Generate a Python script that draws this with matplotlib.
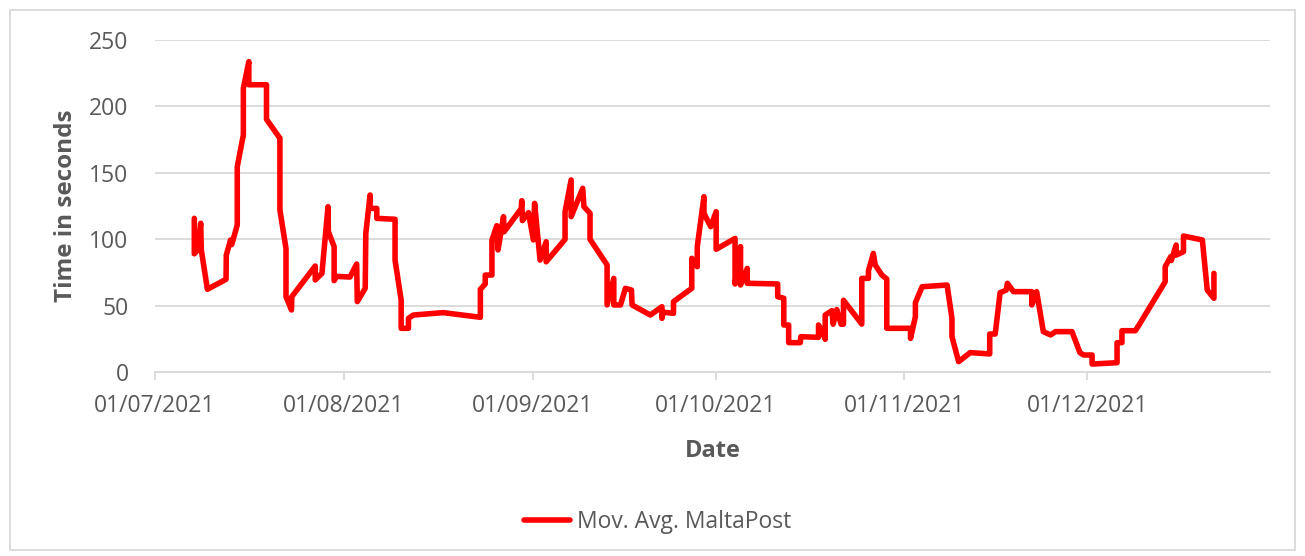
import pandas as pd
import matplotlib
matplotlib.use("Agg")
import matplotlib.pyplot as plt
import matplotlib.dates as mdates
from matplotlib.patches import Rectangle

# Moving average points: days after 01/07/2021 and value (seconds)
days = [
    6.45, 6.45, 7.0, 7.5, 7.6, 8.6, 11.66, 11.7, 12.4, 12.6, 13.5, 13.5, 14.5, 14.5,
    15.4, 15.4, 18.3, 18.3, 20.5, 20.5, 21.5, 21.5, 22.4, 22.45, 26.3, 26.3, 27.4,
    28.4, 28.45, 29.4, 29.4, 29.8, 32.0, 33.1, 33.2, 34.5, 34.6, 35.3, 35.3, 36.4,
    36.4, 39.4, 39.4, 40.4, 40.4, 41.6, 41.6, 42.4, 47.3, 53.4, 53.4, 54.2, 54.2,
    55.3, 55.3, 56.1, 56.3, 57.2, 57.3, 60.1, 60.2, 60.3, 61.3, 62.1, 62.3, 63.2,
    64.2, 64.2, 67.3, 67.3, 68.3, 68.3, 70.2, 70.4, 71.4, 71.4, 74.2, 74.2, 75.3,
    75.3, 76.4, 77.2, 78.2, 78.3, 81.3, 83.2, 83.2, 83.4, 85.1, 85.1, 88.1, 88.1,
    89.0, 89.0, 90.1, 90.1, 91.2, 92.1, 92.1, 95.2, 95.2, 96.1, 96.1, 97.2, 97.2,
    102.2, 102.2, 103.2, 103.2, 104.0, 104.0, 105.9, 106.0, 108.9, 108.9, 109.7,
    110.0, 110.0, 111.1, 111.3, 111.9, 112.6, 113.0, 113.0, 116.0, 116.0, 117.1,
    117.1, 117.9, 118.2, 119.3, 120.1, 120.1, 124.0, 124.0, 124.8, 124.8, 125.9,
    130.0, 130.8, 130.8, 131.9, 133.8, 137.0, 137.0, 137.9, 138.7, 139.7, 139.9,
    140.9, 143.9, 143.9, 144.7, 145.8, 147.0, 147.8, 150.5, 151.8, 152.4, 153.8,
    153.8, 157.9, 157.9, 158.7, 158.7, 160.9, 161.5, 165.8, 165.8, 166.7, 166.8,
    167.6, 167.6, 168.8, 168.8, 171.9, 172.7, 173.8, 173.8,
]
values = [
    115.7, 89, 92, 112, 92, 62.3, 69.8, 88, 99.4, 96, 110.7, 154.6, 178.5, 213.6,
    233.7, 216.3, 216.3, 190.3, 176, 122, 93, 56.7, 46.7, 56.7, 79.8, 69.3, 74.3,
    124.5, 105.7, 94.4, 68.8, 72, 71.5, 81.3, 53, 63, 104.4, 133.3, 123.2, 123.2,
    115.7, 115, 84.3, 54.2, 32.9, 32.9, 40.4, 42.9, 44.7, 41.2, 62.3, 66.3, 73,
    73, 99.4, 110.2, 91.9, 117, 105.6, 123, 129, 114, 120, 99.4, 127, 84.3,
    98.1, 83, 99.9, 120.7, 144.6, 117, 138.3, 124.5, 119.5, 99.9, 80.6, 50.5, 70.5,
    50.5, 50.5, 63, 61.7, 50.5, 42.9, 49.2, 40.4, 45, 44.2, 53, 63, 85.6,
    79.3, 94.4, 132, 119.5, 109.4, 120.7, 92.4, 100.6, 66.3, 94.4, 65.5, 78, 66.8,
    66.3, 56.7, 55.5, 35.4, 35.4, 22.1, 22.1, 26.6, 26.1, 35.4, 28.6,
    24.6, 42.9, 46.2, 36, 47, 36, 36, 54, 36.1, 70.5, 70.5,
    76.3, 89.3, 80.6, 73, 70, 32.9, 32.9, 25.3, 41.7, 52.2, 64.2,
    65.5, 40.4, 26.6, 7.8, 14.6, 13.6, 28.6, 28.6, 59.7, 61.7, 66.8,
    60.5, 60.5, 50.5, 60.5, 30.4, 27.9, 30.4, 30.4, 14.6, 12.8, 12.8,
    6, 7, 22.1, 22.1, 31.1, 31.1, 35.4, 68, 79.3, 86.8, 84,
    95.6, 88, 90.6, 102.4, 99.4, 61.7, 55.5, 74.3,
]
series_name = "Mov. Avg. MaltaPost"
start = pd.Timestamp("2021-07-01")
dates = start + pd.to_timedelta(days, unit="D")

grey = "#595959"
plt.rcParams["font.family"] = ["Open Sans", "DejaVu Sans"]

fig = plt.figure(figsize=(13.05, 5.56), dpi=100)
ax = fig.add_axes([155 / 1305, 1 - 372 / 556, (1270 - 155) / 1305, (372 - 40) / 556])

ax.plot(dates, values, color="#ff0000", linewidth=4.0, solid_joinstyle="round",
        solid_capstyle="round", label=series_name)

ax.set_xlim(start, pd.Timestamp("2021-12-31"))
ax.set_ylim(0, 250)
ax.set_yticks([0, 50, 100, 150, 200, 250])
ax.xaxis.set_major_locator(mdates.MonthLocator())
ax.xaxis.set_major_formatter(mdates.DateFormatter("%d/%m/%Y"))

ax.grid(axis="y", color="#d9d9d9", linewidth=1.3)
ax.set_axisbelow(True)
for s in ["top", "right", "left"]:
    ax.spines[s].set_visible(False)
ax.spines["bottom"].set_color("#d9d9d9")
ax.spines["bottom"].set_linewidth(1.3)

ax.tick_params(axis="y", length=0, pad=19, labelsize=16.5, labelcolor=grey)
ax.tick_params(axis="x", length=6, width=1.3, color="#d9d9d9", pad=10,
               labelsize=16.5, labelcolor=grey)

ax.set_ylabel("Time in seconds", fontsize=17.5, fontweight="bold", color=grey, labelpad=8)
ax.set_xlabel("Date", fontsize=17, fontweight="bold", color=grey, labelpad=15)

fig.legend(loc="center", bbox_to_anchor=(0.504, 1 - 522 / 556), frameon=False,
           fontsize=16.5, labelcolor=grey, handlelength=2.0, handletextpad=0.3)

fig.patches.append(Rectangle((10 / 1305, 6 / 556), 1285 / 1305, 540 / 556,
                             transform=fig.transFigure, fill=False,
                             edgecolor="#d9d9d9", linewidth=1.3))

fig.savefig("out.png", dpi=100)
